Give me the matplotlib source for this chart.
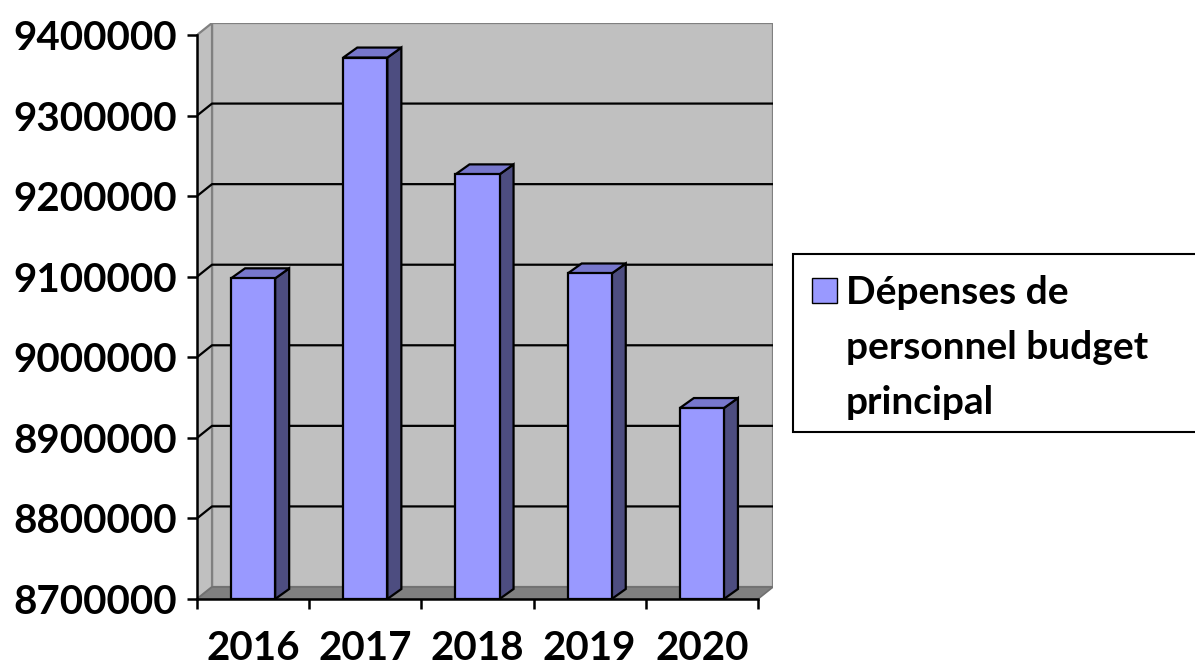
import matplotlib.pyplot as plt
from matplotlib.patches import Polygon, Rectangle

# Dépenses de personnel, budget principal
years = ["2016", "2017", "2018", "2019", "2020"]
depenses = [9098000, 9372000, 9227000, 9104000, 8937000]
y_ticks = [8700000, 8800000, 8900000, 9000000, 9100000, 9200000, 9300000, 9400000]
legend_lines = ["Dépenses de", "personnel budget", "principal"]

plt.rcParams['font.family'] = ['Lato', 'DejaVu Sans']
plt.rcParams['font.weight'] = 'bold'

W, H = 1195, 669
fig = plt.figure(figsize=(W / 100, H / 100), dpi=100)

# plot area in pixels: front axis x=197, back wall right x=773, floor y=599, top y=23
ax = fig.add_axes([197 / W, 1 - 599 / H, (773 - 197) / W, (599 - 23) / H])

ymin, ymax = y_ticks[0], y_ticks[-1]
px_per_val = (599 - 35) / (ymax - ymin)
# 3-D depth offsets for the walls and for the bars
wdx, wdy = 15 / 112, 12 / px_per_val
bdx, bdy = 14 / 112, 10 / px_per_val
n = len(years)

ax.set_xlim(0, n + wdx)
ax.set_ylim(ymin, ymax + wdy)

wall = '#C0C0C0'
edge = '#808080'
# back wall, side wall, floor
ax.add_patch(Rectangle((wdx, ymin + wdy), n, ymax - ymin, facecolor=wall,
                       edgecolor=edge, lw=1.6, zorder=1))
ax.add_patch(Polygon([(0, ymin), (wdx, ymin + wdy), (wdx, ymax + wdy), (0, ymax)],
                     facecolor=wall, edgecolor=edge, lw=1.6, zorder=1))
ax.add_patch(Polygon([(0, ymin), (n, ymin), (n + wdx, ymin + wdy), (wdx, ymin + wdy)],
                     facecolor='#808080', edgecolor='#707070', lw=1.2, zorder=2))

# gridlines on the back wall with their diagonal on the side wall
for v in y_ticks[1:-1]:
    ax.plot([0, wdx, n + wdx], [v, v + wdy, v + wdy], color='black', lw=1.6,
            solid_capstyle='butt', zorder=3)

# bars
bw = 0.393
for i, v in enumerate(depenses):
    c = i + 0.5
    l, r = c - bw / 2, c + bw / 2
    ax.add_patch(Polygon([(r, ymin), (r + bdx, ymin + bdy), (r + bdx, v + bdy), (r, v)],
                         facecolor='#4D4D80', edgecolor='black', lw=1.6,
                         joinstyle='miter', zorder=5))
    ax.add_patch(Polygon([(l, v), (r, v), (r + bdx, v + bdy), (l + bdx, v + bdy)],
                         facecolor='#7777CC', edgecolor='black', lw=1.6,
                         joinstyle='miter', zorder=5))
    ax.add_patch(Rectangle((l, ymin), bw, v - ymin, facecolor='#9999FF',
                           edgecolor='black', lw=1.6, joinstyle='miter', zorder=6))

# axes lines and ticks
for s in ['top', 'right']:
    ax.spines[s].set_visible(False)
ax.spines['left'].set_bounds(ymin, ymax)
ax.spines['bottom'].set_bounds(0, n)
for s in ['left', 'bottom']:
    ax.spines[s].set_linewidth(1.8)
    ax.spines[s].set_zorder(8)

ax.set_yticks(y_ticks)
ax.set_yticklabels([str(t) for t in y_ticks])
ax.tick_params(axis='y', length=7.5, width=1.8, pad=7, labelsize=29)

ax.set_xticks(range(n + 1))
ax.set_xticklabels([])
ax.set_xticks([i + 0.5 for i in range(n)], minor=True)
ax.set_xticklabels(years, minor=True)
ax.tick_params(axis='x', which='major', length=7.5, width=1.8)
ax.tick_params(axis='x', which='minor', length=0, pad=22, labelsize=29)

# legend box
fig.patches.append(Rectangle((793 / W, 1 - 432 / H), (W + 10 - 793) / W, (432 - 254) / H,
                             transform=fig.transFigure, facecolor='white',
                             edgecolor='black', lw=1.5, figure=fig))
fig.patches.append(Rectangle((812 / W, 1 - 303 / H), 25 / W, 25 / H,
                             transform=fig.transFigure, facecolor='#9999FF',
                             edgecolor='black', lw=1.0, figure=fig))
for k, line in enumerate(legend_lines):
    fig.text(846 / W, 1 - (304 + 55 * k) / H, line, fontsize=28,
             fontweight='bold', va='baseline', ha='left')

fig.savefig('out.png', dpi=100)
